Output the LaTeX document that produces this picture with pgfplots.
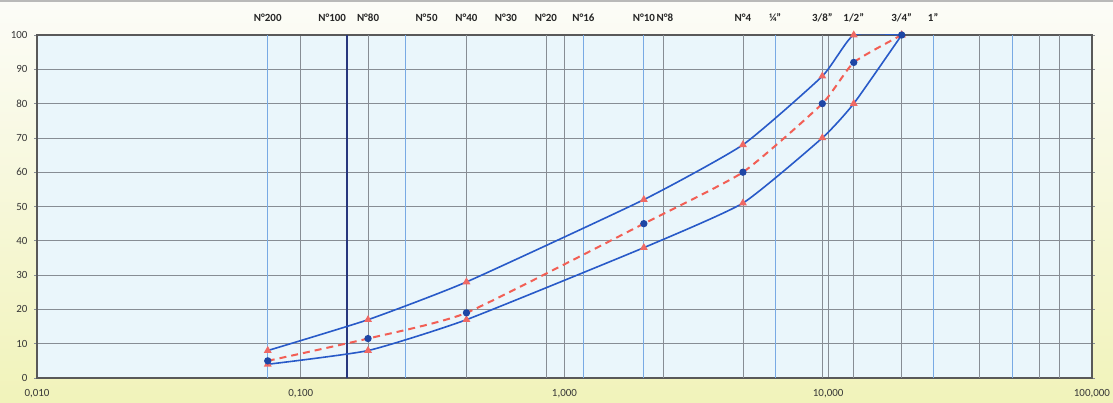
\documentclass[border=0pt]{standalone}
\usepackage{fontspec}
\setmainfont{Carlito}
\usepackage{pgfplots}
\pgfplotsset{compat=1.18}

\definecolor{plotbg}{RGB}{234,246,251}
\definecolor{pagetop}{RGB}{252,252,248}
\definecolor{pagebot}{RGB}{241,243,186}
\definecolor{gridgray}{RGB}{135,141,148}
\definecolor{sieveblue}{RGB}{120,170,228}
\definecolor{navyline}{RGB}{40,55,125}
\definecolor{limblue}{RGB}{40,90,200}
\definecolor{mkred}{RGB}{240,105,100}
\definecolor{midred}{RGB}{242,95,85}
\definecolor{dotblue}{RGB}{30,70,165}
\definecolor{labelgray}{RGB}{55,55,55}

\begin{document}
\begin{tikzpicture}
\useasboundingbox (0bp,0bp) rectangle (1113bp,403bp);
\shade[top color=pagetop, bottom color=pagebot] (0bp,0bp) rectangle (1113bp,403bp);
\fill[gray!55] (0bp,400.8bp) rectangle (1113bp,403bp);

\tikzset{sieve/.style={anchor=base, font=\fontsize{11}{13}\selectfont\bfseries, text=black!85, yshift=13bp}}

\begin{axis}[
  at={(37bp,25bp)}, anchor=south west,
  scale only axis, width=1055bp, height=343bp,
  xmode=log, log basis x=10,
  xmin=0.01, xmax=100, ymin=0, ymax=100,
  clip mode=individual,
  axis background/.style={fill=plotbg},
  axis line style={draw=black!65, line width=1.3bp},
  xtick={0.01,0.1,1,10,100},
  xticklabels={{0,010},{0,100},{1,000},{10,000},{100,000}},
  ytick={0,10,...,100},
  grid=both,
  major grid style={draw=gridgray, line width=0.7bp},
  minor grid style={draw=gridgray, line width=0.6bp},
  tick align=outside, major tick length=3bp, minor tick length=0pt,
  xtick style={draw=none},
  ytick style={draw=gridgray, line width=0.7bp},
  extra x ticks={0.075,0.18,0.25,0.425,0.85,1.18,2.36,4.75,6.3,9.5,12.5,19,25,37.5,63,75},
  extra x tick labels={},
  extra x tick style={grid=major, major grid style={draw=gridgray, line width=0.6bp}, tick style={draw=none}},
  /pgf/number format/assume math mode=true,
  ticklabel style={font=\fontsize{11}{13}\selectfont, text=labelgray},
  yticklabel style={xshift=-3bp},
  xticklabel style={yshift=-5bp},
]

% sieve reference lines
\draw[sieveblue, line width=1bp] (axis cs:0.075,0) -- (axis cs:0.075,100);
\draw[sieveblue, line width=1bp] (axis cs:0.25,0) -- (axis cs:0.25,100);
\draw[sieveblue, line width=1bp] (axis cs:1.18,0) -- (axis cs:1.18,100);
\draw[sieveblue, line width=1bp] (axis cs:2,0) -- (axis cs:2,100);
\draw[sieveblue, line width=1bp] (axis cs:6.3,0) -- (axis cs:6.3,100);
\draw[sieveblue, line width=1bp] (axis cs:25,0) -- (axis cs:25,100);
\draw[sieveblue, line width=1bp] (axis cs:50,0) -- (axis cs:50,100);
\draw[navyline, line width=1.6bp] (axis cs:0.15,0) -- (axis cs:0.15,100);

% specification limits
\addplot[limblue, line width=1.6bp, smooth, tension=0.3,
  mark=triangle*, mark size=3bp, mark options={solid, draw=mkred, fill=mkred}]
  coordinates {(0.075,8) (0.18,17) (0.425,28) (2,52) (4.75,68) (9.5,88) (12.5,100) (19,100)};
\addplot[limblue, line width=1.6bp, smooth, tension=0.3,
  mark=triangle*, mark size=3bp, mark options={solid, draw=mkred, fill=mkred}]
  coordinates {(0.075,4) (0.18,8) (0.425,17) (2,38) (4.75,51) (9.5,70) (12.5,80) (19,100)};

% gradation of the mix
\addplot[midred, line width=2bp, dash pattern=on 7bp off 5bp, smooth, tension=0.3,
  mark=*, mark size=2.6bp, mark options={solid, draw=dotblue, fill=dotblue}]
  coordinates {(0.075,5) (0.18,11.5) (0.425,19) (2,45) (4.75,60) (9.5,80) (12.5,92) (19,100)};

% sieve designations
\node[sieve] at (axis cs:0.075,100) {N°200};
\node[sieve, xshift=-15bp] at (axis cs:0.15,100) {N°100};
\node[sieve] at (axis cs:0.18,100) {N°80};
\node[sieve] at (axis cs:0.3,100) {N°50};
\node[sieve] at (axis cs:0.425,100) {N°40};
\node[sieve] at (axis cs:0.6,100) {N°30};
\node[sieve] at (axis cs:0.85,100) {N°20};
\node[sieve] at (axis cs:1.18,100) {N°16};
\node[sieve] at (axis cs:2,100) {N°10};
\node[sieve, xshift=2bp] at (axis cs:2.36,100) {N°8};
\node[sieve] at (axis cs:4.75,100) {N°4};
\node[sieve] at (axis cs:6.3,100) {¼"};
\node[sieve] at (axis cs:9.5,100) {3/8"};
\node[sieve] at (axis cs:12.5,100) {1/2"};
\node[sieve] at (axis cs:19,100) {3/4"};
\node[sieve] at (axis cs:25,100) {1"};
\end{axis}
\end{tikzpicture}
\end{document}
